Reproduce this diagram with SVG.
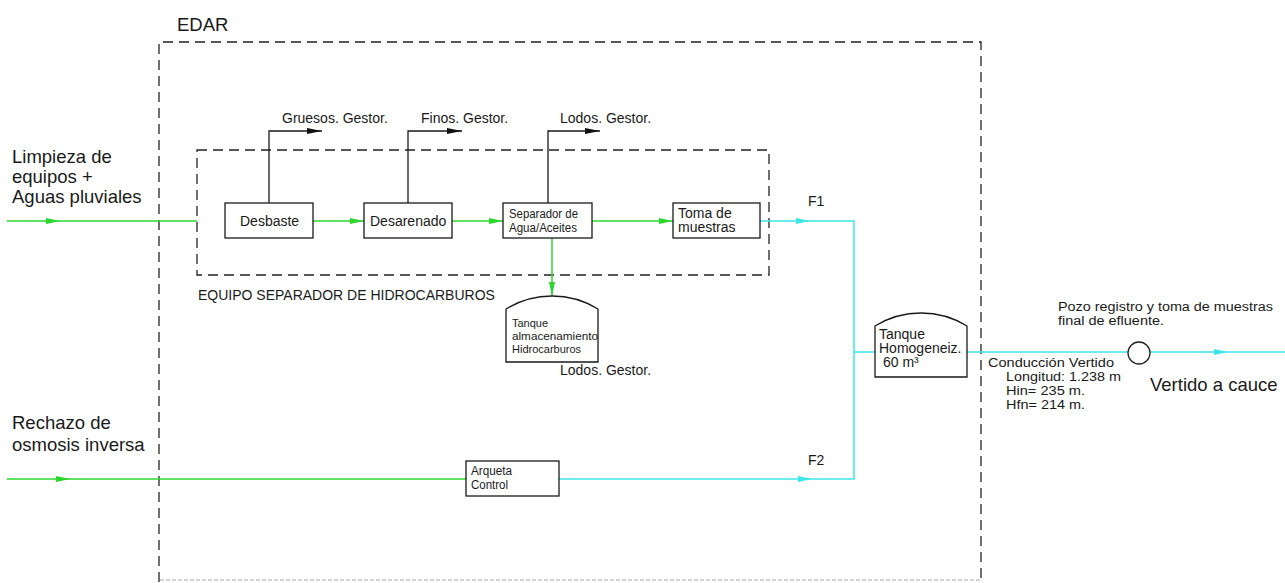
<svg xmlns="http://www.w3.org/2000/svg" xmlns:xlink="http://www.w3.org/1999/xlink" width="1285" height="583" viewBox="0 0 1285 583">
<style>
  .t { font-family: "Liberation Sans", Arial, sans-serif; fill: #1a1a1a; }
  .big { font-size: 18.5px; }
  .mid { font-size: 14px; }
  .note { font-size: 12.5px; }
  .sm { font-size: 12px; }
  .xs { font-size: 11px; }
  .box { fill: #ffffff; stroke: #1a1a1a; stroke-width: 1.3; }
  .dash { fill: none; stroke: #222222; stroke-width: 1.3; stroke-dasharray: 10 6; }
  .dashfaint { fill: none; stroke: #c4c4c4; stroke-width: 1.5; stroke-dasharray: 4 2; }
  .g { fill: none; stroke: #2cd62c; stroke-width: 1.5; }
  .c { fill: none; stroke: #3ee6e6; stroke-width: 1.5; }
  .k { fill: none; stroke: #1a1a1a; stroke-width: 1.3; }
</style>
<defs>
  <path id="ag" d="M-14,-3 L0,0 L-14,3 Z" fill="#2cd62c"/>
  <path id="agd" d="M-3,-14 L0,0 L3,-14 Z" fill="#2cd62c"/>
  <path id="ac" d="M-14,-3 L0,0 L-14,3 Z" fill="#3ee6e6"/>
  <path id="ak" d="M-15,-3 L0,0 L-15,3 Z" fill="#111111"/>
</defs>
<rect width="1285" height="583" fill="#ffffff"/>

<g id="edar">
  <path class="dash" d="M159,582 L159,42 L981,42 L981,582"/>
  <line class="dashfaint" x1="160" y1="580" x2="980" y2="580"/>
  <text class="t big" x="177" y="31">EDAR</text>
</g>

<g id="equipo-separador">
  <rect class="dash" x="197" y="150" width="572" height="125"/>
  <text class="t mid" x="198" y="300">EQUIPO SEPARADOR DE HIDROCARBUROS</text>
</g>

<g id="connectors">
  <line class="g" x1="7" y1="221" x2="197" y2="221"/>
  <line class="g" x1="313" y1="221" x2="364" y2="221"/>
  <line class="g" x1="452" y1="221" x2="503" y2="221"/>
  <line class="g" x1="592" y1="221" x2="673" y2="221"/>
  <line class="g" x1="552" y1="238" x2="552" y2="296"/>
  <line class="g" x1="7" y1="479" x2="466" y2="479"/>
  <polyline class="c" points="760,221 854,221 854,479 559,479"/>
  <line class="c" x1="854" y1="352" x2="875" y2="352"/>
  <line class="c" x1="967" y1="352" x2="1285" y2="352"/>
  <polyline class="k" points="269,203 269,131 322,131"/>
  <polyline class="k" points="408,203 408,131 462,131"/>
  <polyline class="k" points="548,203 548,131 600,131"/>
  <use xlink:href="#ag" x="60" y="221"/>
  <use xlink:href="#ag" x="364" y="221"/>
  <use xlink:href="#ag" x="503" y="221"/>
  <use xlink:href="#ag" x="673" y="221"/>
  <use xlink:href="#agd" x="552" y="296"/>
  <use xlink:href="#ag" x="70" y="479"/>
  <use xlink:href="#ac" x="810" y="221"/>
  <use xlink:href="#ac" x="812" y="479"/>
  <use xlink:href="#ac" x="1228" y="352"/>
  <use xlink:href="#ak" x="322" y="131"/>
  <use xlink:href="#ak" x="462" y="131"/>
  <use xlink:href="#ak" x="600" y="131"/>
</g>

<g id="input-limpieza">
  <text class="t big" x="12" y="163">Limpieza de</text>
  <text class="t big" x="12" y="183">equipos +</text>
  <text class="t big" x="12" y="203">Aguas pluviales</text>
</g>

<g id="input-rechazo">
  <text class="t big" x="12" y="429">Rechazo de</text>
  <text class="t big" x="12" y="451">osmosis inversa</text>
</g>

<g id="desbaste">
  <rect class="box" x="225" y="203" width="88" height="35"/>
  <text class="t mid" x="240" y="226">Desbaste</text>
</g>
<g id="gruesos">
  <text class="t mid" x="282" y="123">Gruesos. Gestor.</text>
</g>

<g id="desarenado">
  <rect class="box" x="364" y="203" width="88" height="35"/>
  <text class="t mid" x="370" y="226">Desarenado</text>
</g>
<g id="finos">
  <text class="t mid" x="421" y="123">Finos. Gestor.</text>
</g>

<g id="separador">
  <rect class="box" x="503" y="203" width="89" height="35"/>
  <text class="t sm" x="509" y="218" textLength="69" lengthAdjust="spacingAndGlyphs">Separador de</text>
  <text class="t sm" x="509" y="232" textLength="68" lengthAdjust="spacingAndGlyphs">Agua/Aceites</text>
</g>
<g id="lodos-top">
  <text class="t mid" x="560" y="123">Lodos. Gestor.</text>
</g>

<g id="toma-muestras">
  <rect class="box" x="673" y="203" width="87" height="35"/>
  <text class="t mid" x="678" y="218">Toma de</text>
  <text class="t mid" x="678" y="232">muestras</text>
</g>

<g id="tanque-hidrocarburos">
  <path class="box" d="M506,309 A88,88 0 0 1 598,309 L598,362 L506,362 Z"/>
  <text class="t xs" x="512" y="327">Tanque</text>
  <text class="t xs" x="512" y="340" textLength="86" lengthAdjust="spacingAndGlyphs">almacenamiento</text>
  <text class="t xs" x="512" y="353">Hidrocarburos</text>
</g>
<g id="lodos-bottom">
  <text class="t mid" x="560" y="375">Lodos. Gestor.</text>
</g>

<g id="arqueta">
  <rect class="box" x="466" y="461" width="93" height="35"/>
  <text class="t sm" x="471" y="475" textLength="41" lengthAdjust="spacingAndGlyphs">Arqueta</text>
  <text class="t sm" x="471" y="489" textLength="37" lengthAdjust="spacingAndGlyphs">Control</text>
</g>

<g id="f1"><text class="t mid" x="808" y="206">F1</text></g>
<g id="f2"><text class="t mid" x="808" y="465">F2</text></g>

<g id="tanque-homogeneiz">
  <path class="box" d="M875,326 A88,88 0 0 1 967,326 L967,377 L875,377 Z"/>
  <text class="t mid" x="879" y="339">Tanque</text>
  <text class="t mid" x="879" y="353">Homogeneiz.</text>
  <text class="t mid" x="883" y="367">60 m³</text>
</g>

<g id="pozo">
  <circle cx="1139" cy="353" r="11" fill="#ffffff" stroke="#222222" stroke-width="1.3"/>
  <text class="t note" x="1058" y="311" textLength="215" lengthAdjust="spacingAndGlyphs">Pozo registro y toma de muestras</text>
  <text class="t note" x="1058" y="325" textLength="106" lengthAdjust="spacingAndGlyphs">final de efluente.</text>
</g>

<g id="conduccion">
  <text class="t note" x="988" y="367" textLength="126" lengthAdjust="spacingAndGlyphs">Conducción Vertido</text>
  <text class="t note" x="1006" y="381" textLength="115" lengthAdjust="spacingAndGlyphs">Longitud: 1.238 m</text>
  <text class="t note" x="1006" y="395" textLength="79" lengthAdjust="spacingAndGlyphs">Hin= 235 m.</text>
  <text class="t note" x="1006" y="409" textLength="79" lengthAdjust="spacingAndGlyphs">Hfn= 214 m.</text>
</g>

<g id="vertido">
  <text class="t big" x="1150" y="391">Vertido a cauce</text>
</g>
</svg>
